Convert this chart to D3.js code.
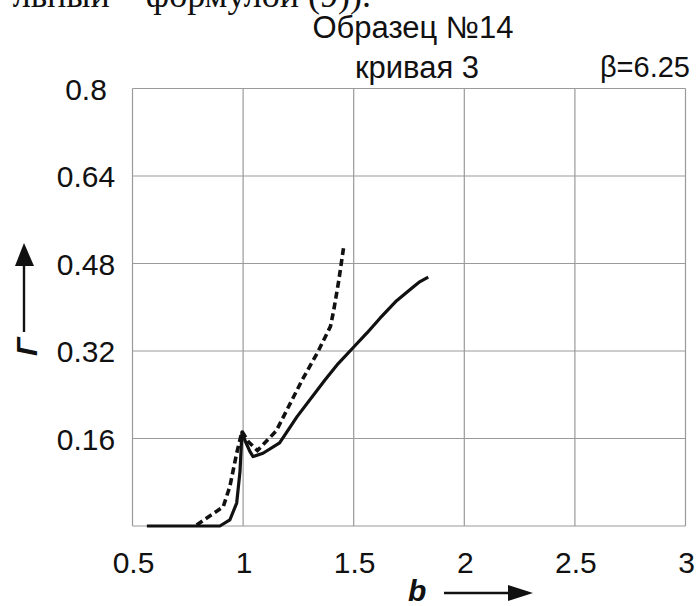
<!DOCTYPE html>
<html>
<head>
<meta charset="utf-8">
<script src="https://cdnjs.cloudflare.com/ajax/libs/d3/7.8.5/d3.min.js"></script>
<style>
  body { margin: 0; background: #fff; }
  svg { display: block; }
  text { font-family: "Liberation Sans", Arial, sans-serif; fill: #111; }
</style>
</head>
<body>
<div id="chart"></div>
<script>
// b values and Г values
var solidB = [0.565, 0.895, 0.94, 0.971, 0.986, 0.995, 1.01, 1.03, 1.045, 1.09, 1.165, 1.244, 1.37, 1.43, 1.495, 1.56, 1.619, 1.694, 1.769, 1.80, 1.837];
var solidG = [0, 0, 0.011, 0.042, 0.10, 0.172, 0.155, 0.137, 0.127, 0.133, 0.152, 0.20, 0.267, 0.297, 0.325, 0.353, 0.380, 0.412, 0.437, 0.447, 0.455];

var dashB = [0.79, 0.91, 0.94, 0.971, 0.995, 1.024, 1.065, 1.15, 1.267, 1.335, 1.395, 1.41, 1.433, 1.456];
var dashG = [0.002, 0.035, 0.072, 0.133, 0.173, 0.154, 0.138, 0.174, 0.267, 0.316, 0.365, 0.395, 0.45, 0.514];

var xTicks = [0.5, 1, 1.5, 2, 2.5, 3];
var xTickLabels = ["0.5", "1", "1.5", "2", "2.5", "3"];
var yTicks = [0.16, 0.32, 0.48, 0.64, 0.8];
var yTickLabels = ["0.16", "0.32", "0.48", "0.64", "0.8"];

var width = 700, height = 606;
var svg = d3.select("#chart").append("svg")
  .attr("width", width)
  .attr("height", height);

var x = d3.scaleLinear().domain([0.5, 3]).range([132.5, 685.5]);
var y = d3.scaleLinear().domain([0, 0.8]).range([526, 88.5]);

// cut-off line of text above the figure
svg.append("text")
  .attr("x", 371).attr("y", 7)
  .attr("text-anchor", "end")
  .style("font-family", "'Liberation Serif', 'Times New Roman', serif")
  .style("font-size", "36px")
  .text("льный – формулой (9)).");

// grid
svg.selectAll(".vgrid")
  .data(xTicks)
  .enter().append("line")
  .attr("x1", function (d) { return x(d) })
  .attr("x2", function (d) { return x(d) })
  .attr("y1", y(0)).attr("y2", y(0.8))
  .attr("stroke", "#9a9a9a").attr("stroke-width", 1.2);

svg.selectAll(".hgrid")
  .data([0].concat(yTicks))
  .enter().append("line")
  .attr("x1", x(0.5)).attr("x2", x(3))
  .attr("y1", function (d) { return y(d) })
  .attr("y2", function (d) { return y(d) })
  .attr("stroke", "#9a9a9a").attr("stroke-width", 1.2);

// tick labels
svg.selectAll(".xlab")
  .data(xTicks)
  .enter().append("text")
  .attr("x", function (d) { return x(d) + 1 })
  .attr("y", 573)
  .attr("text-anchor", "middle")
  .style("font-size", "30px")
  .text(function (d, i) { return xTickLabels[i] });

svg.selectAll(".ylab")
  .data(yTicks)
  .enter().append("text")
  .attr("x", 86)
  .attr("y", function (d) { return y(d) + 11 })
  .attr("text-anchor", "middle")
  .style("font-size", "30px")
  .text(function (d, i) { return yTickLabels[i] });

// curves
var line = d3.line()
  .x(function (d) { return x(d[0]) })
  .y(function (d) { return y(d[1]) })
  .curve(d3.curveLinear);

svg.append("path")
  .datum(d3.zip(dashB, dashG))
  .attr("d", line)
  .attr("fill", "none")
  .attr("stroke", "#111")
  .attr("stroke-width", 3.6)
  .attr("stroke-dasharray", "7,4");

svg.append("path")
  .datum(d3.zip(solidB, solidG))
  .attr("d", line)
  .attr("fill", "none")
  .attr("stroke", "#111")
  .attr("stroke-width", 3.2)
  .attr("stroke-linejoin", "round");

// titles
svg.append("text")
  .attr("x", 413).attr("y", 38)
  .attr("text-anchor", "middle")
  .style("font-size", "31px")
  .text("Образец №14");

svg.append("text")
  .attr("x", 417).attr("y", 78)
  .attr("text-anchor", "middle")
  .style("font-size", "31px")
  .text("кривая 3");

svg.append("text")
  .attr("x", 690).attr("y", 77)
  .attr("text-anchor", "end")
  .style("font-size", "29px")
  .text("β=6.25");

// axis names with arrows
svg.append("text")
  .attr("x", 408).attr("y", 601)
  .style("font-size", "30px")
  .style("font-weight", "bold")
  .style("font-style", "italic")
  .text("b");

svg.append("line")
  .attr("x1", 444).attr("x2", 512)
  .attr("y1", 593).attr("y2", 593)
  .attr("stroke", "#111").attr("stroke-width", 2.4);
svg.append("path")
  .attr("d", "M533,593 L508,585 L508,601 Z")
  .attr("fill", "#111");

svg.append("text")
  .attr("transform", "translate(37,356) rotate(-90)")
  .style("font-size", "30px")
  .style("font-weight", "bold")
  .style("font-style", "italic")
  .text("Г");

svg.append("line")
  .attr("x1", 24).attr("x2", 24)
  .attr("y1", 332).attr("y2", 262)
  .attr("stroke", "#111").attr("stroke-width", 2.4);
svg.append("path")
  .attr("d", "M24,243 L15,266 L34,266 Z")
  .attr("fill", "#111");
</script>
</body>
</html>
